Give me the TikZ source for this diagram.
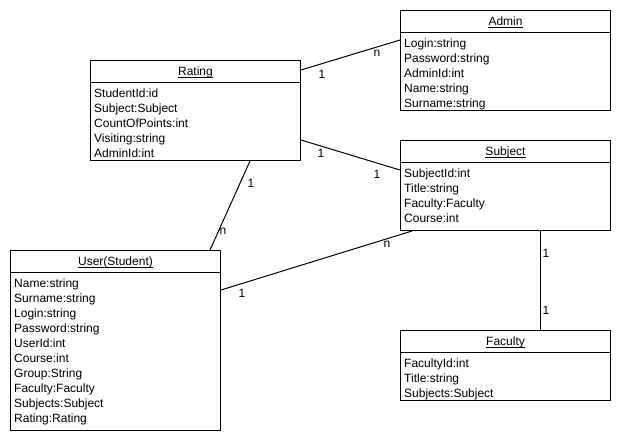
\documentclass[tikz,border=0pt]{standalone}
\usepackage{fontspec}
\setmainfont{Liberation Sans}
\usepackage{tikz}
\usetikzlibrary{calc}
\tikzset{
	classbox/.style={draw, line width=1pt, anchor=north west, minimum width=210pt, inner sep=0pt},
	classtitle/.style={anchor=base, inner sep=0pt},
	classattr/.style={anchor=base west, inner sep=0pt},
	mult/.style={inner sep=0pt},
	assoc/.style={line width=1pt}
}
\newcommand{\umlclass}[6] % name, x, y, height, title, attributes
{
	% outer box
	\node[classbox, minimum height=#4pt] (#1) at (#2,#3) {};
	% title, underlined
	\node[classtitle] (#1-title) at ([yshift=-15.5pt]#1.north) {#5};
	\draw[line width=0.8pt] ([yshift=-1.8pt]#1-title.base west) -- ([yshift=-1.8pt]#1-title.base east);
	% header line
	\draw[line width=1pt] ([yshift=-22pt]#1.north west) -- ([yshift=-22pt]#1.north east);
	% attributes
	\foreach \attr [count=\i] in {#6}
		\node[classattr] (#1-\i) at ([xshift=4pt, yshift={-(22+15*\i)*1pt}]#1.north west) {\attr};
}

\begin{document}
\begin{tikzpicture}[x=1pt, y=-1pt, every node/.style={font=\fontsize{12}{15}\selectfont}]
	% 620 x 440 px
	\useasboundingbox (0,0) rectangle (620,440);
	\fill[white] (0,0) rectangle (620,440);
	
	\umlclass{rating}{90}{60}{100}{Rating}{StudentId:id, Subject:Subject, CountOfPoints:int, Visiting:string, AdminId:int};
	\umlclass{admin}{400}{10}{100}{Admin}{Login:string, Password:string, AdminId:int, Name:string, Surname:string};
	\umlclass{subject}{400}{140}{90}{Subject}{SubjectId:int, Title:string, Faculty:Faculty, Course:int};
	\umlclass{user}{10}{250}{180}{User(Student)}{Name:string, Surname:string, Login:string, Password:string, UserId:int, Course:int, Group:String, Faculty:Faculty, Subjects:Subject, Rating:Rating};
	\umlclass{faculty}{400}{330}{70}{Faculty}{FacultyId:int, Title:string, Subjects:Subject};
	
	% associations
	\draw[assoc] ([yshift=-10pt]rating.north east) -- ([yshift=-30pt]admin.north west);
	\draw[assoc] ([yshift=-80pt]rating.north east) -- ([yshift=-30pt]subject.north west);
	\draw[assoc] ([xshift=160pt]rating.south west) -- ([xshift=200pt]user.north west);
	\draw[assoc] ([xshift=12pt]subject.south west) -- ([yshift=-40pt]user.north east);
	\draw[assoc] ([xshift=140pt]subject.south west) -- ([xshift=140pt]faculty.north west);
	
	% multiplicities
	\node[mult] (m-ra1) at (322,74) {1};
	\node[mult] (m-ra2) at (377,53) {n};
	\node[mult] (m-rs1) at (321,153) {1};
	\node[mult] (m-rs2) at (377,174) {1};
	\node[mult] (m-ru1) at (251,183) {1};
	\node[mult] (m-ru2) at (223,231) {n};
	\node[mult] (m-su1) at (387,244) {n};
	\node[mult] (m-su2) at (242,293) {1};
	\node[mult] (m-sf1) at (546,253) {1};
	\node[mult] (m-sf2) at (546,310) {1};
\end{tikzpicture}
\end{document}
